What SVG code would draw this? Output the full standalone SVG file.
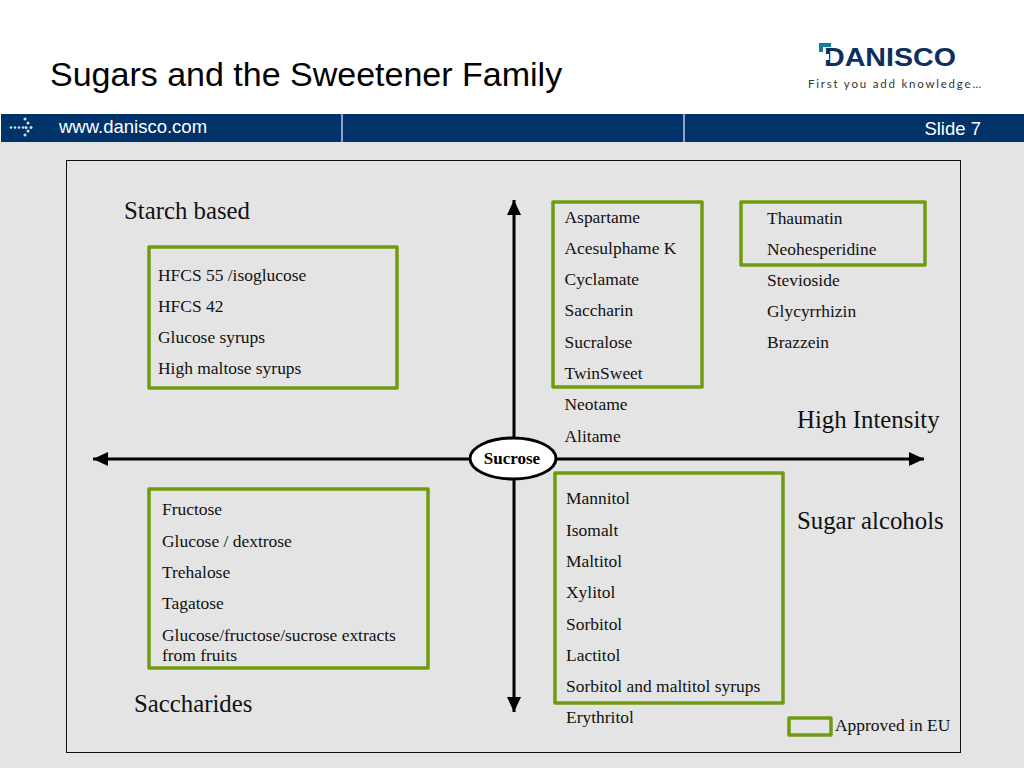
<svg xmlns="http://www.w3.org/2000/svg" width="1024" height="768" viewBox="0 0 1024 768">
<style>
.t{font-family:"Liberation Serif","Times New Roman",serif;font-size:17.450px;fill:#111}
.h{font-family:"Liberation Serif","Times New Roman",serif;font-size:24.800px;fill:#111}
.b{fill:none;stroke:#6f9c0f;stroke-width:3.500;stroke-linejoin:round}
.s{font-family:"Liberation Sans",Arial,sans-serif;fill:#fff}
.ax{stroke:#000;stroke-width:3;fill:none}
</style>
<defs>
<marker id="ah" markerUnits="userSpaceOnUse" markerWidth="16" markerHeight="14" refX="15" refY="7" orient="auto-start-reverse"><path d="M0 0L15 7L0 14Z" fill="#000"/></marker>
</defs>
<rect width="1024" height="768" fill="#fff"/>
<rect y="142" width="1024" height="626" fill="#e4e4e4"/>
<text x="50" y="86" font-family="'Liberation Sans',Arial,sans-serif" font-size="34" fill="#000">Sugars and the Sweetener Family</text>
<g id="logo">
<text x="824" y="66" font-family="'Liberation Sans',Arial,sans-serif" font-weight="bold" font-size="26" textLength="132" lengthAdjust="spacingAndGlyphs" fill="#0e2f5c">DANISCO</text>
<path d="M819 43H831V47H823V52H819Z" fill="#0f7f9c"/>
<rect x="824" y="54" width="5" height="6" fill="#fff"/>
<text x="808" y="88" font-family="Lato,'Liberation Sans',sans-serif" font-size="11.500" textLength="173" fill="#333">First you add knowledge…</text>
</g>
<g id="header-bar">
<rect x="1" y="114" width="1023" height="28" fill="#00336a"/>
<path d="M342 114V142M684 114V142" stroke="#b6c8e0" stroke-width="1.500"/>
<g fill="#cfe0f0"><circle cx="11" cy="127.500" r="1.300"/><circle cx="15" cy="127.500" r="1.300"/><circle cx="19" cy="127.500" r="1.300"/><circle cx="23" cy="127.500" r="1.300"/><circle cx="25" cy="119" r="1.500"/><circle cx="28" cy="123" r="1.500"/><circle cx="31" cy="127.500" r="1.500"/><circle cx="28" cy="131" r="1.500"/><circle cx="25" cy="135" r="1.500"/><circle cx="26" cy="127.500" r="1.500"/></g>
<text class="s" x="59" y="133" font-size="18.500">www.danisco.com</text>
<text class="s" x="981" y="135" font-size="18.500" text-anchor="end">Slide 7</text>
</g>
<rect id="panel" x="66.500" y="160.500" width="894" height="592" fill="#e4e4e4" stroke="#111" stroke-width="1"/>
<g id="connectors">
<path class="ax" d="M514 438V200" marker-end="url(#ah)"/>
<path class="ax" d="M514 479V712" marker-end="url(#ah)"/>
<path class="ax" d="M470 459H93" marker-end="url(#ah)"/>
<path class="ax" d="M556 459H924" marker-end="url(#ah)"/>
</g>
<g id="sucrose">
<ellipse cx="513" cy="458.500" rx="43" ry="20.500" fill="#fff" stroke="#000" stroke-width="3"/>
<text x="512" y="464" font-family="'Liberation Serif',serif" font-weight="bold" font-size="17" text-anchor="middle" fill="#000">Sucrose</text>
</g>
<g id="starch">
<text class="h" x="124" y="219">Starch based</text>
<rect class="b" x="149" y="247" width="248" height="141"/>
<text class="t"><tspan x="158" y="281">HFCS 55 /isoglucose</tspan><tspan x="158" y="312">HFCS 42</tspan><tspan x="158" y="343">Glucose syrups</tspan><tspan x="158" y="374">High maltose syrups</tspan></text>
</g>
<g id="saccharides">
<rect class="b" x="149" y="489" width="279" height="179"/>
<text class="t"><tspan x="162" y="515">Fructose</tspan><tspan x="162" y="547">Glucose / dextrose</tspan><tspan x="162" y="578">Trehalose</tspan><tspan x="162" y="609">Tagatose</tspan><tspan x="162" y="641">Glucose/fructose/sucrose extracts</tspan><tspan x="162" y="661">from fruits</tspan></text>
<text class="h" x="134" y="712">Saccharides</text>
</g>
<g id="intense-a">
<rect class="b" x="553" y="202" width="149" height="185"/>
<text class="t"><tspan x="564.500" y="223">Aspartame</tspan><tspan x="564.500" y="254">Acesulphame K</tspan><tspan x="564.500" y="285">Cyclamate</tspan><tspan x="564.500" y="316">Saccharin</tspan><tspan x="564.500" y="348">Sucralose</tspan><tspan x="564.500" y="379">TwinSweet</tspan><tspan x="564.500" y="410">Neotame</tspan><tspan x="564.500" y="442">Alitame</tspan></text>
</g>
<g id="intense-b">
<rect class="b" x="741" y="202" width="184" height="63"/>
<text class="t"><tspan x="767" y="224">Thaumatin</tspan><tspan x="767" y="255">Neohesperidine</tspan><tspan x="767" y="286">Stevioside</tspan><tspan x="767" y="317">Glycyrrhizin</tspan><tspan x="767" y="348">Brazzein</tspan></text>
<text class="h" x="797" y="428">High Intensity</text>
</g>
<g id="alcohols">
<rect class="b" x="555" y="473" width="228" height="230"/>
<text class="t"><tspan x="566" y="504">Mannitol</tspan><tspan x="566" y="536">Isomalt</tspan><tspan x="566" y="567">Maltitol</tspan><tspan x="566" y="598">Xylitol</tspan><tspan x="566" y="630">Sorbitol</tspan><tspan x="566" y="661">Lactitol</tspan><tspan x="566" y="692">Sorbitol and maltitol syrups</tspan><tspan x="566" y="723">Erythritol</tspan></text>
<text class="h" x="797" y="529">Sugar alcohols</text>
</g>
<g id="legend">
<rect class="b" x="789" y="718" width="42" height="17"/>
<text class="t" x="835" y="731">Approved in EU</text>
</g>
</svg>
